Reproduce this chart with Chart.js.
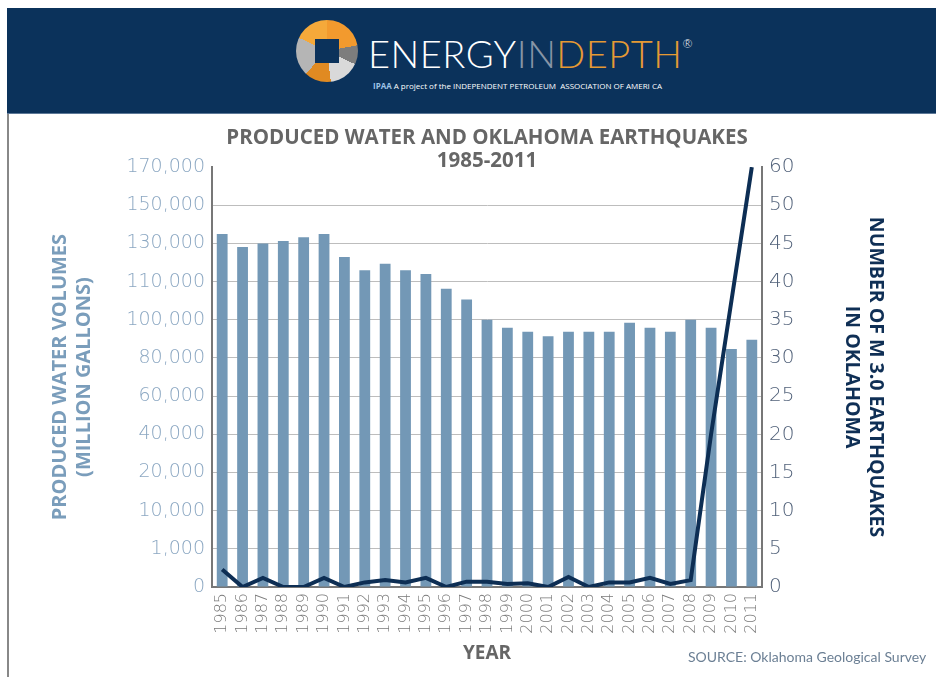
<!DOCTYPE html>
<html>
<head>
<meta charset="utf-8">
<script src="https://cdn.jsdelivr.net/npm/chart.js@4/dist/chart.umd.min.js"></script>
<style>
  html, body { margin: 0; padding: 0; background: #fff; }
  #page { position: relative; width: 936px; height: 677px; overflow: hidden; }
  #banner {
    position: absolute; left: 7px; top: 8px; width: 929px; height: 105px;
    background: #0b325b; border-bottom: 1px solid #5c7897;
  }
  #edge { position: absolute; left: 7px; top: 114px; width: 2px; height: 563px; background: #888; }
  #logoIcon {
    position: absolute; left: 296px; top: 20px; width: 62px; height: 62px; border-radius: 50%;
    background: conic-gradient(#f29a2e 0 22%, #7d7d7d 22% 32%, #d9d9d9 32% 48%, #e08a22 48% 62%, #b5b5b5 62% 82%, #f5a93a 82% 100%);
  }
  #logoIcon::after {
    content: ""; position: absolute; left: 19px; top: 19px; width: 24px; height: 24px; background: #0b325b;
  }
  #logoText {
    position: absolute; left: 368px; top: 30px; font-family: Lato, "Open Sans", sans-serif;
    font-weight: 300; font-size: 38px; letter-spacing: 0.5px; color: #fff; white-space: nowrap;
  }
  #logoText .in { color: #8795a6; }
  #logoText .depth { color: #e59a34; }
  #logoText sup { font-size: 12px; vertical-align: 20px; color: #fff; }
  #ipaa {
    position: absolute; left: 373px; top: 80px; font-family: "Open Sans", sans-serif; font-size: 8px;
    color: #fff; white-space: nowrap;
  }
  #ipaa b { color: #9ec3e6; font-size: 8px; margin-right: 2px; }
  #chartBox { position: absolute; left: 0; top: 113px; width: 936px; height: 564px; }
  #source {
    position: absolute; left: 688px; top: 648px; font-family: Lato, "Open Sans", sans-serif;
    font-size: 14px; color: #6b7f94; white-space: nowrap;
  }
</style>
</head>
<body>
<div id="page">
  <div id="banner"></div>
  <div id="edge"></div>
  <div id="logoIcon"></div>
  <div id="logoText">ENERGY<span class="in">IN</span><span class="depth">DEPTH</span><sup>®</sup></div>
  <div id="ipaa"><b>IPAA</b>A project of the INDEPENDENT PETROLEUM&nbsp; ASSOCIATION OF AMERI CA</div>
  <div id="chartBox"><canvas id="chart" width="936" height="564"></canvas></div>
  <div id="source">SOURCE: Oklahoma Geological Survey</div>
</div>
<script>
const years = ["1985","1986","1987","1988","1989","1990","1991","1992","1993","1994","1995","1996","1997","1998",
  "1999","2000","2001","2002","2003","2004","2005","2006","2007","2008","2009","2010","2011"];

// produced water volumes, million gallons
const waterVolume = [135000, 128200, 130000, 131300, 133200, 135000, 122900, 115900, 119300, 115900, 114000,
  108100, 105300, 100000, 95800, 93700, 91400, 93700, 93700, 93700, 98500, 95800, 93700, 100000, 95800, 84700, 89600];

// number of M 3.0+ earthquakes in Oklahoma
const quakes = [2.3, 0, 1.2, 0, 0, 1.2, 0, 0.6, 0.9, 0.6, 1.2, 0, 0.7, 0.7, 0.4, 0.5, 0, 1.3, 0, 0.6, 0.6, 1.2, 0.4, 0.9, 20, 37.5, 60];

// both value axes use evenly spaced, unevenly valued tick labels
const waterTicks = [0, 1000, 10000, 20000, 40000, 60000, 80000, 100000, 110000, 130000, 150000, 170000];
const quakeTicks = [0, 5, 10, 15, 20, 25, 30, 35, 40, 45, 50, 60];

// value -> position on the tick ladder (0..11)
function toIndex(v, ticks) {
  for (let i = 1; i < ticks.length; i++) {
    if (v <= ticks[i]) return i - 1 + (v - ticks[i - 1]) / (ticks[i] - ticks[i - 1]);
  }
  return ticks.length - 1;
}

const fmt = n => n.toLocaleString("en-US");

new Chart(document.getElementById("chart"), {
  type: "bar",
  data: {
    labels: years,
    datasets: [
      {
        type: "line",
        label: "Earthquakes",
        data: quakes.map(v => toIndex(v, quakeTicks)),
        yAxisID: "y1",
        borderColor: "#0d2e54",
        borderWidth: 4,
        pointRadius: 0,
        tension: 0,
        order: 1,
      },
      {
        label: "Produced water",
        data: waterVolume.map(v => toIndex(v, waterTicks)),
        yAxisID: "y",
        backgroundColor: "#7398b6",
        barPercentage: 0.53,
        categoryPercentage: 1,
        order: 2,
      },
    ],
  },
  options: {
    responsive: false,
    animation: false,
    layout: { padding: 0 },
    plugins: {
      legend: { display: false },
      tooltip: { enabled: false },
      title: {
        display: true,
        fullSize: false,
        text: ["PRODUCED WATER AND OKLAHOMA EARTHQUAKES", "1985-2011"],
        color: "#666666",
        font: { family: "'Open Sans'", size: 20.5, weight: "bold", lineHeight: 1.1 },
        padding: { top: 14, bottom: -5 },
      },
    },
    scales: {
      x: {
        afterFit: s => { s.height = 90; },
        grid: { display: false, drawTicks: false },
        border: { display: true, color: "#777", width: 2 },
        ticks: {
          color: "#7a7a7a",
          font: { family: "'DejaVu Sans'", size: 16, weight: 300, lineHeight: 1 },
          autoSkip: false,
          minRotation: 90,
          maxRotation: 90,
          padding: 6,
        },
        title: {
          display: true,
          text: "YEAR",
          color: "#666666",
          font: { family: "'Open Sans'", size: 19, weight: "bold", lineHeight: 1.1 },
          padding: { top: 0, bottom: 13 },
        },
      },
      y: {
        position: "left",
        min: 0,
        max: 11,
        afterFit: s => { s.width = 212; },
        afterBuildTicks: s => { s.ticks = waterTicks.map((_, i) => ({ value: i })); },
        grid: {
          drawTicks: false,
          color: c => (c.tick && c.tick.value === 11 ? "rgba(0,0,0,0)" : "#bdbdbd"),
          lineWidth: 1,
        },
        border: { display: true, color: "#777", width: 2 },
        ticks: {
          color: "#8ba7c2",
          font: { family: "'DejaVu Sans'", size: 19, weight: 300 },
          padding: 7,
          callback: v => fmt(waterTicks[v]),
        },
        title: {
          display: true,
          text: ["PRODUCED WATER VOLUMES", "(MILLION GALLONS)"],
          color: "#7a9dbb",
          font: { family: "'Open Sans'", size: 20, weight: "bold", lineHeight: 1.2 },
          padding: { top: 48 },
        },
      },
      y1: {
        position: "right",
        min: 0,
        max: 11,
        afterFit: s => { s.width = 174; },
        afterBuildTicks: s => { s.ticks = quakeTicks.map((_, i) => ({ value: i })); },
        grid: { drawOnChartArea: false, drawTicks: false },
        border: { display: true, color: "#777", width: 2 },
        ticks: {
          color: "#52627a",
          font: { family: "'DejaVu Sans'", size: 20, weight: 300 },
          padding: 7,
          callback: v => String(quakeTicks[v]),
        },
        title: {
          display: true,
          text: ["NUMBER OF M 3.0 EARTHQUAKES", "IN OKLAHOMA"],
          color: "#0f2f55",
          font: { family: "'Open Sans'", size: 19.5, weight: "bold", lineHeight: 1.2 },
          padding: { top: 49 },
        },
      },
    },
  },
});
</script>
</body>
</html>
